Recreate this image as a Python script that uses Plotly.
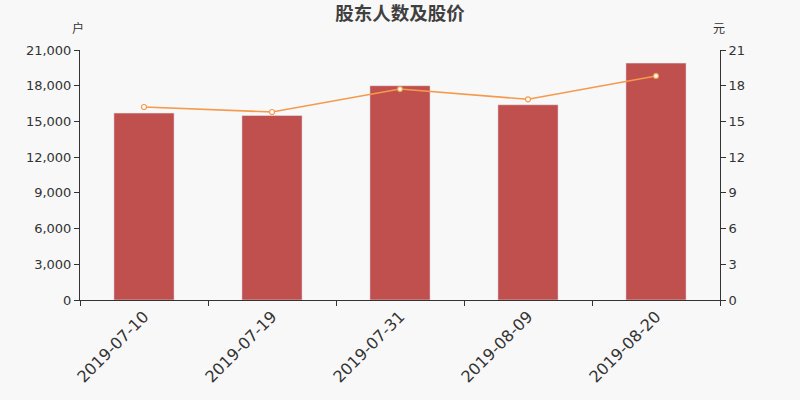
import plotly.graph_objects as go

dates = ["2019-07-10", "2019-07-19", "2019-07-31", "2019-08-09", "2019-08-20"]
holders = [15700, 15500, 18000, 16400, 19900]
prices = [16.21, 15.79, 17.72, 16.86, 18.82]

left_ticks = [0, 3000, 6000, 9000, 12000, 15000, 18000, 21000]
left_labels = ["0", "3,000", "6,000", "9,000", "12,000", "15,000", "18,000", "21,000"]
right_ticks = [0, 3, 6, 9, 12, 15, 18, 21]

fig = go.Figure()
fig.add_trace(go.Bar(x=dates, y=holders, marker_color="#c0504d", width=0.47, yaxis="y"))
fig.add_trace(go.Scatter(x=dates, y=prices, yaxis="y2", mode="lines+markers",
                         line=dict(color="#f59a4c", width=1.6),
                         marker=dict(size=5, color="white", line=dict(color="#f59a4c", width=1.2))))

axis_font = dict(family="DejaVu Sans", size=13, color="#333")
fig.update_layout(
    width=800, height=400,
    paper_bgcolor="#f8f8f8", plot_bgcolor="#f8f8f8",
    margin=dict(l=80, r=80, t=50, b=100),
    showlegend=False,
    title=dict(text="<b>股东人数及股价</b>", x=0.5, xanchor="center", y=0.965, yanchor="middle",
               font=dict(family="Noto Sans CJK SC", size=18.5, color="#404040")),
    xaxis=dict(type="category", tickangle=-45, tickfont=dict(family="DejaVu Sans", size=16, color="#333"),
               showline=True, linecolor="#333", linewidth=1, ticks="outside", tickson="boundaries",
               ticklen=5, tickcolor="#333", showgrid=False),
    yaxis=dict(range=[0, 21000], tickvals=left_ticks, ticktext=left_labels, tickfont=axis_font,
               showline=True, linecolor="#333", ticks="outside", ticklen=5, tickcolor="#333",
               showgrid=False, zeroline=False),
    yaxis2=dict(range=[0, 21], tickvals=right_ticks, tickfont=axis_font, overlaying="y", side="right",
                showline=True, linecolor="#333", ticks="outside", ticklen=5, tickcolor="#333",
                showgrid=False, zeroline=False),
    annotations=[
        dict(text="户", xref="paper", yref="paper", x=0, y=1.088, xshift=-2, showarrow=False,
             xanchor="center", yanchor="middle", font=dict(family="Noto Sans CJK SC", size=12, color="#333")),
        dict(text="元", xref="paper", yref="paper", x=1, y=1.088, xshift=-1, showarrow=False,
             xanchor="center", yanchor="middle", font=dict(family="Noto Sans CJK SC", size=12, color="#333")),
    ],
)
fig.write_html("out.html", config={"displayModeBar": False},
               post_script="document.body.style.margin='0';document.body.style.background='#f8f8f8';")
